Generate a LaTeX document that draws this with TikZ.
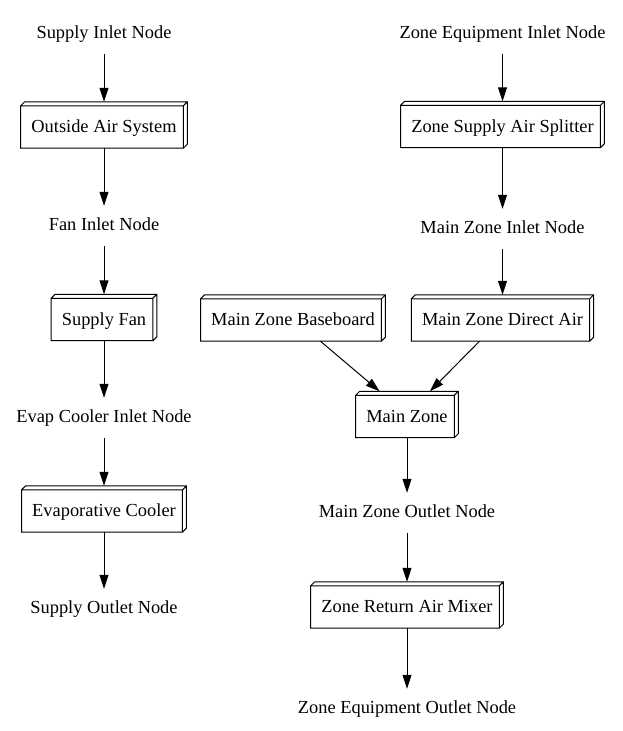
\documentclass[tikz,border=0pt]{standalone}
\usepackage{fontspec}
\setmainfont{Liberation Serif}
\usetikzlibrary{positioning,calc,arrows.meta}

\tikzset{
  port/.style={minimum height=40pt, inner sep=0pt, text height=12.5pt, text depth=4pt},
  unit/.style={minimum height=46pt, inner xsep=10.5pt, inner ysep=0pt, text height=15pt, text depth=0pt},
  flow/.style={-{Triangle[length=14pt,width=9pt]}, line width=1pt}
}

\begin{document}
\begin{tikzpicture}[x=1pt, y=-1pt, font=\fontsize{18.4}{22}\selectfont]
    \useasboundingbox (0,0) rectangle (623,731);

    % Supply side
    \node [port] (sin) at (104,34) {Supply Inlet Node};
    \node [unit] (oas) at (104,125) {Outside Air System};
    \node [port] (fin) at (104,226) {Fan Inlet Node};
    \node [unit] (fan) at (104,317.5) {Supply Fan};
    \node [port] (ecin) at (104,418) {Evap Cooler Inlet Node};
    \node [unit] (evap) at (104,509) {Evaporative Cooler};
    \node [port] (sout) at (104,609) {Supply Outlet Node};

    % Zone side
    \node [port] (zin) at (502.5,34) {Zone Equipment Inlet Node};
    \node [unit] (split) at (502.5,124.5) {Zone Supply Air Splitter};
    \node [port] (mzin) at (502.5,229) {Main Zone Inlet Node};
    \node [unit] (base) at (293,318) {Main Zone Baseboard};
    \node [unit] (direct) at (502.5,318) {Main Zone Direct Air};
    \node [unit] (mz) at (407,414.5) {Main Zone};
    \node [port] (mzout) at (407,513) {Main Zone Outlet Node};
    \node [unit] (mix) at (407,605) {Zone Return Air Mixer};
    \node [port] (zout) at (407,709) {Zone Equipment Outlet Node};

    % 3d boxes
    \foreach \n in {oas,fan,evap,split,base,direct,mz,mix}
        \draw [line width=1pt] (\n.south west) rectangle ($(\n.north east)+(-4pt,-4pt)$)
            ($(\n.north west)+(0pt,-4pt)$) -- ($(\n.north west)+(4pt,0pt)$) -- (\n.north east)
            -- ($(\n.south east)+(0pt,4pt)$) -- ($(\n.south east)+(-4pt,0pt)$)
            ($(\n.north east)+(-4pt,-4pt)$) -- (\n.north east);

    % Flows
    \draw [flow] (sin) -- (oas);
    \draw [flow] (oas) -- (fin);
    \draw [flow] (fin) -- (fan);
    \draw [flow] (fan) -- (ecin);
    \draw [flow] (ecin) -- (evap);
    \draw [flow] (evap) -- (sout);
    \draw [flow] (zin) -- (split);
    \draw [flow] (split) -- (mzin);
    \draw [flow] (mzin) -- (direct);
    \draw [flow] (base) -- (mz);
    \draw [flow] (direct) -- (mz);
    \draw [flow] (mz) -- (mzout);
    \draw [flow] (mzout) -- (mix);
    \draw [flow] (mix) -- (zout);
\end{tikzpicture}
\end{document}
